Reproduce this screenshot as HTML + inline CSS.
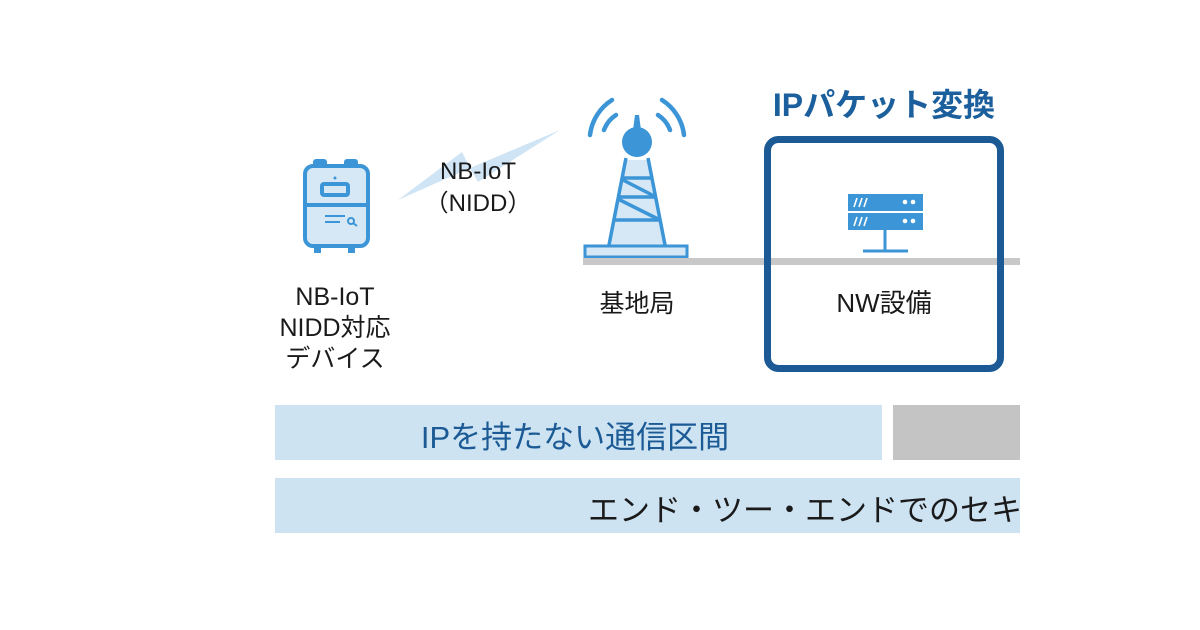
<!DOCTYPE html>
<html><head><meta charset="utf-8"><style>
html,body{margin:0;padding:0;background:#fff;}
body{width:1200px;height:630px;overflow:hidden;position:relative;font-family:"Liberation Sans","Noto Sans CJK JP",sans-serif;}
.t{position:absolute;white-space:nowrap;}
</style></head><body>
<svg width="1200" height="630" style="position:absolute;left:0;top:0">
  <polygon points="398,200 462,152 470,168 560,130 478,182 470,168" fill="#cfe4f4"/>
  <g stroke="#3b95d6" stroke-width="4" fill="#d6e8f6">
    <rect x="305" y="166" width="63" height="80" rx="8"/>
    <line x1="305" y1="205" x2="368" y2="205"/>
    <rect x="322" y="184" width="26" height="11" rx="2" fill="none"/>
  </g>
  <rect x="313" y="159" width="14" height="8" rx="3" fill="#3b95d6"/>
  <rect x="344" y="159" width="14" height="8" rx="3" fill="#3b95d6"/>
  <rect x="314" y="245" width="7" height="8" fill="#3b95d6"/>
  <rect x="348" y="245" width="7" height="8" fill="#3b95d6"/>
  <circle cx="335" cy="178" r="1.5" fill="#3b95d6"/>
  <g stroke="#3b95d6" stroke-width="2" fill="none">
    <line x1="325" y1="216" x2="345" y2="216"/><line x1="325" y1="222" x2="340" y2="222"/>
    <circle cx="351" cy="221" r="3"/><line x1="353" y1="223" x2="357" y2="226"/>
  </g>
  <g stroke="#3b95d6" stroke-width="4.5" fill="none" stroke-linecap="round">
    <path d="M590,135 A48,48 0 0 1 612,100"/>
    <path d="M604,130 A30,30 0 0 1 616,115"/>
    <path d="M684,135 A48,48 0 0 0 662,100"/>
    <path d="M670,130 A30,30 0 0 0 658,115"/>
  </g>
  <polygon points="625,160 650,160 665,245 610,245" fill="#d6e8f6"/>
  <g stroke="#3b95d6" stroke-width="3.5" fill="none">
    <line x1="626" y1="158" x2="609" y2="245"/>
    <line x1="648" y1="158" x2="665" y2="245"/>
    <line x1="622" y1="178" x2="653" y2="178"/>
    <line x1="618" y1="197" x2="657" y2="197"/>
    <line x1="614" y1="220" x2="661" y2="220"/>
    <line x1="623" y1="180" x2="656" y2="197"/>
    <line x1="618" y1="199" x2="660" y2="220"/>
  </g>
  <circle cx="637" cy="142" r="15" fill="#3b95d6"/>
  <polygon points="635,115 639,115 641,130 633,130" fill="#3b95d6"/>
  <rect x="585" y="246" width="102" height="11" fill="#d6e8f6" stroke="#3b95d6" stroke-width="3"/>
  <rect x="583" y="258" width="437" height="7" fill="#c8c8c8"/>
  <rect x="767.5" y="139.5" width="233" height="229" rx="11" fill="none" stroke="#1b5a94" stroke-width="7"/>
  <rect x="771" y="258" width="226" height="7" fill="#c8c8c8"/>
  <rect x="848" y="194" width="75" height="17" fill="#3b95d6"/>
  <rect x="848" y="213" width="75" height="17" fill="#3b95d6"/>
  <g stroke="#fff" stroke-width="1.6">
    <line x1="854" y1="207" x2="857" y2="198"/><line x1="859" y1="207" x2="862" y2="198"/><line x1="864" y1="207" x2="867" y2="198"/>
    <line x1="854" y1="226" x2="857" y2="217"/><line x1="859" y1="226" x2="862" y2="217"/><line x1="864" y1="226" x2="867" y2="217"/>
  </g>
  <g fill="#fff"><circle cx="905" cy="202" r="2.3"/><circle cx="913" cy="202" r="2.3"/><circle cx="905" cy="221" r="2.3"/><circle cx="913" cy="221" r="2.3"/></g>
  <g stroke="#3b95d6" stroke-width="3"><line x1="885" y1="230" x2="885" y2="251"/><line x1="863" y1="251" x2="908" y2="251"/></g>
  <rect x="275" y="405" width="607" height="55" fill="#cde3f2"/>
  <rect x="893" y="405" width="127" height="55" fill="#c4c4c4"/>
  <rect x="275" y="478" width="745" height="55" fill="#cde3f2"/>
</svg>
<div class="t" style="left:418px;top:156px;font-size:24px;color:#1a1a1a;line-height:32px;text-align:center;width:120px">NB-IoT<br>（NIDD）</div>
<div class="t" style="left:265px;top:282px;width:140px;text-align:center;font-size:25px;line-height:31px;color:#1a1a1a">NB-IoT<br>NIDD対応<br>デバイス</div>
<div class="t" style="left:577px;top:284px;width:120px;text-align:center;font-size:25px;color:#1a1a1a">基地局</div>
<div class="t" style="left:764px;top:283px;width:240px;text-align:center;font-size:26px;color:#1a1a1a">NW設備</div>
<div class="t" style="left:764px;top:80px;width:240px;text-align:center;font-size:32px;font-weight:bold;color:#1b5f9c">IPパケット変換</div>
<div class="t" style="left:275px;top:412px;width:600px;text-align:center;font-size:31px;color:#1b5a94">IPを持たない通信区間</div>
<div style="position:absolute;left:0;top:0;width:1020px;height:630px;overflow:hidden">
<div class="t" style="left:588px;top:485px;font-size:31px;color:#1a1a1a">エンド・ツー・エンドでのセキュリティ</div>
</div>
</body></html>
